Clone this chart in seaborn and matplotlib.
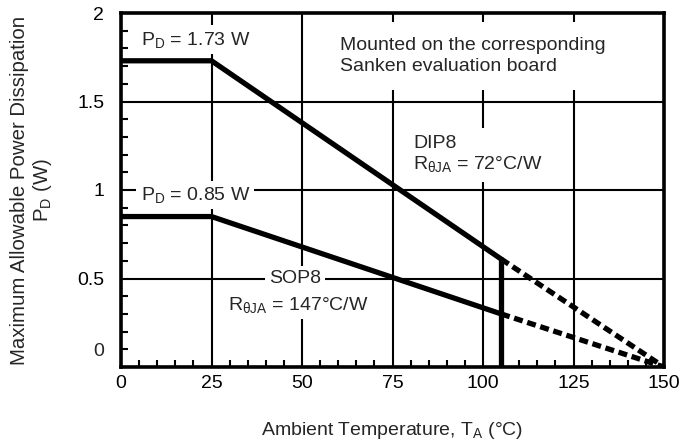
import matplotlib
matplotlib.use("Agg")
import matplotlib.pyplot as plt
import seaborn as sns
from matplotlib.ticker import MultipleLocator, FixedLocator

# ---- data ----
derating_temp = [0, 25, 105]
dip8_pd = [1.73, 1.73, 0.61]
sop8_pd = [0.85, 0.85, 0.30]
extrap_temp = [105, 150]
dip8_extrap = [0.61, 0.0]
sop8_extrap = [0.30, 0.0]
limit_temp = [105, 105]
limit_pd = [0.0, 0.61]
x_ticks = [0, 25, 50, 75, 100, 125, 150]
y_ticks = [0, 0.5, 1, 1.5, 2]
y_tick_labels = ["", "0.5", "1", "1.5", "2"]

sns.set_theme(style="white")
plt.rcParams["font.family"] = ["Liberation Sans", "DejaVu Sans"]
plt.rcParams["mathtext.fontset"] = "custom"
plt.rcParams["mathtext.rm"] = "Liberation Sans"
plt.rcParams["mathtext.it"] = "Liberation Sans:italic"
plt.rcParams["mathtext.bf"] = "Liberation Sans:bold"

FS = 14
fig = plt.figure(figsize=(6.83, 4.47), dpi=100)
ax = fig.add_axes([121 / 683, 1 - 367 / 447, (664 - 121) / 683, (367 - 13) / 447])

LW = 3.8
sns.lineplot(x=derating_temp, y=dip8_pd, ax=ax, color="black", lw=LW, zorder=4)
sns.lineplot(x=derating_temp, y=sop8_pd, ax=ax, color="black", lw=LW, zorder=4)
sns.lineplot(x=extrap_temp, y=dip8_extrap, ax=ax, color="black", lw=LW, zorder=4,
             linestyle=(0, (1.7, 0.9)))
sns.lineplot(x=extrap_temp, y=sop8_extrap, ax=ax, color="black", lw=LW, zorder=4,
             linestyle=(0, (1.7, 0.9)))
sns.lineplot(x=limit_temp, y=limit_pd, ax=ax, color="black", lw=LW, zorder=4,
             estimator=None, sort=False)

ax.set_xlim(0, 150)
ax.set_ylim(0, 2)
ax.xaxis.set_major_locator(FixedLocator(x_ticks))
ax.yaxis.set_major_locator(FixedLocator(y_ticks))
ax.set_xticklabels([str(v) for v in x_ticks])
ax.set_yticklabels(y_tick_labels)
ax.xaxis.set_minor_locator(MultipleLocator(5))
ax.yaxis.set_minor_locator(MultipleLocator(0.1))

ax.grid(True, which="major", color="black", lw=1.5)
ax.set_axisbelow(True)
ax.tick_params(which="major", length=0, labelsize=FS, colors="black")
ax.tick_params(axis="x", which="major", pad=6)
ax.tick_params(axis="y", which="major", pad=12)
ax.tick_params(which="minor", direction="in", length=5, width=1.5, color="black",
               bottom=True, left=True, top=False, right=False)

for s in ax.spines.values():
    s.set_visible(True)
    s.set_color("black")
    s.set_linewidth(2.6)

# the "0" label sits slightly above the baseline in the reference
ax.annotate("0", xy=(0, 0), xycoords=("axes fraction", "data"), xytext=(-12, 11),
            textcoords="offset points", ha="right", va="center", fontsize=FS)

ax.set_xlabel(r"Ambient Temperature, T$_\mathrm{A}$ (°C)", fontsize=FS, labelpad=20)
ax.set_ylabel("Maximum Allowable Power Dissipation\n" + r"P$_\mathrm{D}$ (W)",
              fontsize=14.7, labelpad=17, linespacing=1.1)

box = dict(facecolor="white", edgecolor="none", pad=3)
ax.text(5.4, 1.85, r"P$_\mathrm{D}$ = 1.73 W", fontsize=FS, va="center", ha="left",
        bbox=box, zorder=3)
ax.text(60.4, 1.757, "Mounted on the corresponding\nSanken evaluation board",
        fontsize=FS, va="center", ha="left", linespacing=1.25,
        bbox=dict(facecolor="white", edgecolor="none", pad=11), zorder=3)
ax.text(80.7, 1.20, "DIP8\n" + r"R$_\mathrm{θJA}$ = 72°C/W", fontsize=FS,
        va="center", ha="left", linespacing=1.1,
        bbox=dict(facecolor="white", edgecolor="none", pad=6), zorder=3)
ax.text(5.4, 0.97, r"P$_\mathrm{D}$ = 0.85 W", fontsize=FS, va="center", ha="left",
        bbox=box, zorder=3)
ax.text(48, 0.5, "SOP8", fontsize=FS, va="center", ha="center", bbox=box, zorder=3)
ax.text(29.6, 0.35, r"R$_\mathrm{θJA}$ = 147°C/W", fontsize=FS, va="center",
        ha="left", bbox=box, zorder=3)

fig.savefig("out.png", dpi=100)
